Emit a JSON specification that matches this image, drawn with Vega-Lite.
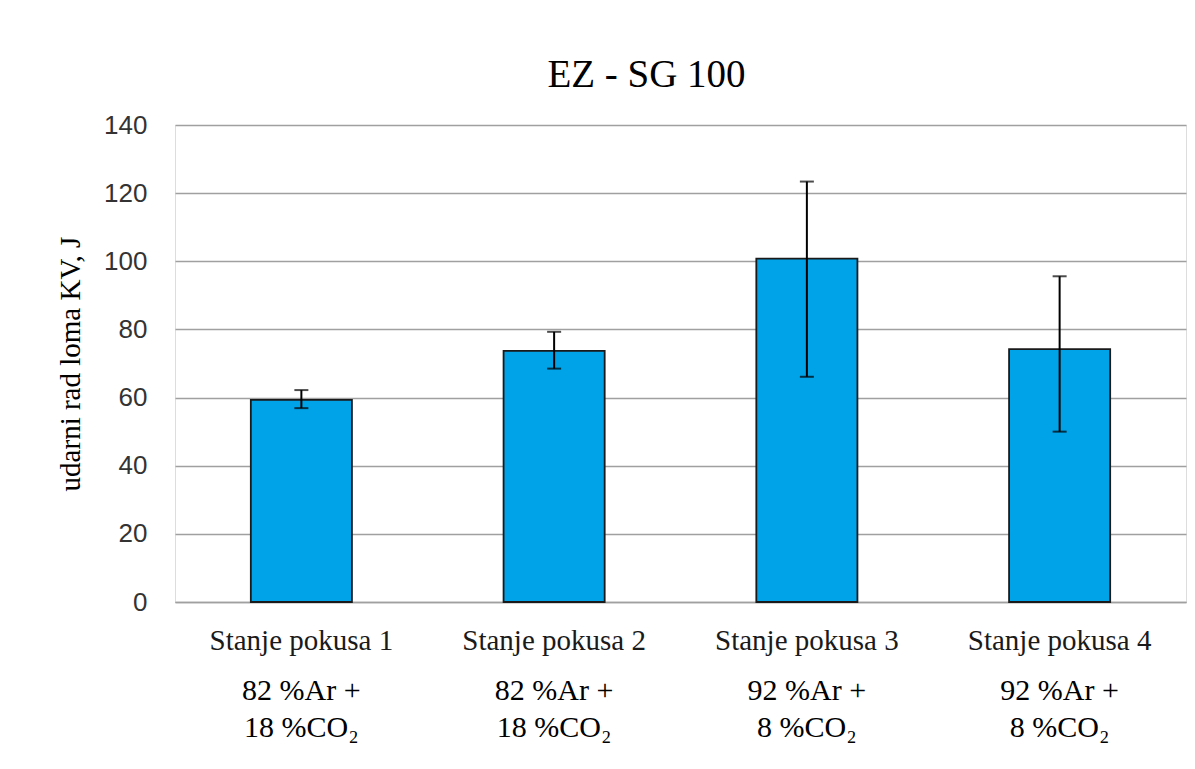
{
  "$schema": "https://vega.github.io/schema/vega-lite/v6.json",
  "autosize": "none",
  "padding": {"left": 175, "top": 125, "right": 9, "bottom": 167},
  "width": 1011,
  "height": 477,
  "background": "white",
  "title": {
    "text": "EZ - SG 100",
    "font": "Liberation Serif",
    "fontSize": 39,
    "fontWeight": "normal",
    "color": "#000000",
    "anchor": "middle",
    "frame": "group",
    "baseline": "alphabetic",
    "offset": -14,
    "dx": -34
  },
  "data": {
    "values": [
      {"stanje": "Stanje pokusa 1|82 %Ar +|18 %CO₂", "kv": 59.3, "lo": 56.9, "hi": 62.2},
      {"stanje": "Stanje pokusa 2|82 %Ar +|18 %CO₂", "kv": 73.7, "lo": 68.5, "hi": 79.3},
      {"stanje": "Stanje pokusa 3|92 %Ar +|8 %CO₂", "kv": 100.8, "lo": 66.1, "hi": 123.4},
      {"stanje": "Stanje pokusa 4|92 %Ar +|8 %CO₂", "kv": 74.2, "lo": 50.0, "hi": 95.6}
    ]
  },
  "resolve": {"axis": {"x": "independent"}},
  "layer": [
    {
      "mark": {"type": "bar", "color": "#00A2E8", "stroke": "#1a1a1a", "strokeWidth": 1.8},
      "encoding": {
        "x": {
          "field": "stanje",
          "type": "nominal",
          "sort": null,
          "scale": {"paddingInner": 0.6, "paddingOuter": 0.3},
          "axis": {
            "title": null,
            "labelExpr": "split(datum.value, '|')[0]",
            "labelAngle": 0,
            "labelLimit": 0,
            "labelFont": "Liberation Serif",
            "labelFontSize": 29,
            "labelColor": "#1a1a1a",
            "labelPadding": 24,
            "ticks": false,
            "domain": true,
            "domainColor": "#a0a0a0",
            "domainWidth": 1.6,
            "grid": false
          }
        },
        "y": {
          "field": "kv",
          "type": "quantitative",
          "scale": {"domain": [0, 140], "nice": false},
          "axis": {
            "title": "udarni rad loma KV, J",
            "titleFont": "Liberation Serif",
            "titleFontSize": 29,
            "titleFontWeight": "normal",
            "titleColor": "#000000",
            "titlePadding": 18,
            "values": [0, 20, 40, 60, 80, 100, 120, 140],
            "labelFont": "Liberation Sans",
            "labelFontSize": 26,
            "labelColor": "#333333",
            "labelPadding": 28,
            "ticks": false,
            "domain": false,
            "grid": true,
            "gridColor": "#a0a0a0",
            "gridWidth": 1.6
          }
        }
      }
    },
    {
      "mark": {"type": "rule", "color": "#000000", "strokeWidth": 2},
      "encoding": {
        "x": {"field": "stanje", "type": "nominal", "sort": null, "axis": null},
        "y": {"field": "lo", "type": "quantitative"},
        "y2": {"field": "hi"}
      }
    },
    {
      "mark": {"type": "tick", "color": "#000000", "thickness": 2, "size": 14, "orient": "horizontal"},
      "encoding": {
        "x": {
          "field": "stanje",
          "type": "nominal",
          "sort": null,
          "axis": {
            "orient": "bottom",
            "title": null,
            "labelExpr": "slice(split(datum.value, '|'), 1)",
            "labelAngle": 0,
            "labelLimit": 0,
            "labelFont": "Liberation Serif",
            "labelFontSize": 30,
            "labelColor": "#000000",
            "labelLineHeight": 37,
            "labelPadding": 73,
            "ticks": false,
            "domain": false,
            "grid": false
          }
        },
        "y": {"field": "hi", "type": "quantitative"}
      }
    },
    {
      "mark": {"type": "tick", "color": "#000000", "thickness": 2, "size": 14, "orient": "horizontal"},
      "encoding": {
        "x": {"field": "stanje", "type": "nominal", "sort": null, "axis": null},
        "y": {"field": "lo", "type": "quantitative"}
      }
    }
  ]
}
